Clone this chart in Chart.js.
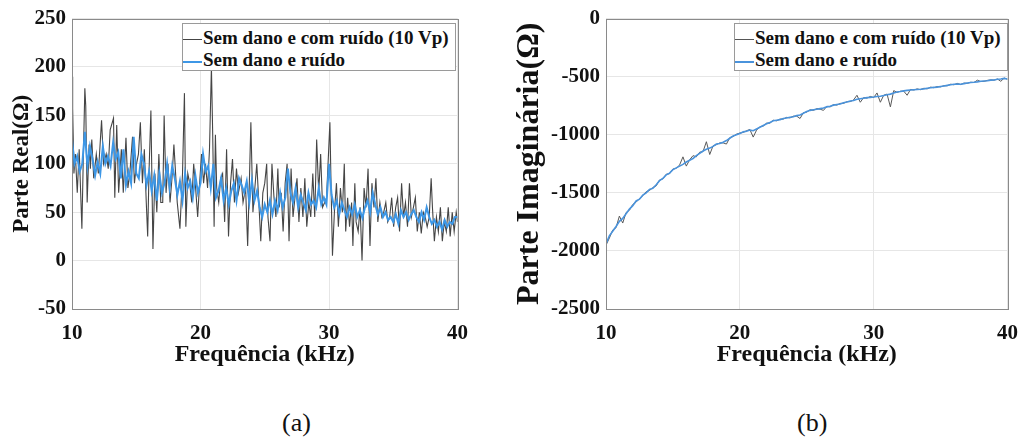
<!DOCTYPE html>
<html>
<head>
<meta charset="utf-8">
<script src="https://cdn.jsdelivr.net/npm/chart.js@4.4.1/dist/chart.umd.min.js"></script>
<style>
body{margin:0;background:#fff;width:1030px;height:441px;position:relative;overflow:hidden;font-family:"Liberation Serif","Times New Roman",serif;}
.box{position:absolute;top:0;}
.legend{position:absolute;top:23px;width:272px;height:46px;border:1px solid #9a9a9a;background:#fff;font-weight:bold;font-size:19px;color:#111;}
.row{position:absolute;left:0;height:20px;line-height:20px;white-space:nowrap;}
.row span.ln{display:inline-block;width:19px;vertical-align:middle;margin-right:1px;}
.cap{position:absolute;top:408px;font-size:26px;color:#111;}
</style>
</head>
<body>

<div class="box" style="left:0;width:480px;height:370px;"><canvas id="realChart" width="480" height="370"></canvas></div>
<div class="box" style="left:510px;width:520px;height:370px;"><canvas id="imagChart" width="520" height="370"></canvas></div>

<div class="legend" style="left:182px;">
<div class="row" style="top:4px;"><span class="ln" style="border-top:1px solid #444;"></span>Sem dano e com ruído (10 Vp)</div>
<div class="row" style="top:26px;"><span class="ln" style="border-top:2px solid #3d97e6;"></span>Sem dano e ruído</div>
</div>
<div class="legend" style="left:734px;">
<div class="row" style="top:4px;"><span class="ln" style="border-top:1px solid #555;"></span>Sem dano e com ruído (10 Vp)</div>
<div class="row" style="top:26px;"><span class="ln" style="border-top:2px solid #4a93dc;"></span>Sem dano e ruído</div>
</div>

<div class="cap" style="left:282px;">(a)</div>
<div class="cap" style="left:797px;">(b)</div>

<script>

/* ================= DATA ================= */
const xTicks=[10,20,30,40];

// (a) real part, noisy measurement
const freqNoisyA=[10.00,10.05,10.15,10.26,10.41,10.56,10.77,10.87,11.00,11.07,11.18,11.33,11.43,11.54,11.69,11.89,12.05,12.30,12.46,12.66,12.82,12.97,13.23,13.33,13.48,13.63,
13.84,13.99,14.20,14.35,14.50,14.71,14.86,15.02,15.17,15.32,15.48,15.63,15.78,15.89,15.99,16.14,16.30,16.45,16.60,16.76,16.91,17.06,17.17,17.32,17.47,17.63,17.78,17.93,
18.04,18.19,18.40,18.60,18.75,18.86,19.01,19.16,19.32,19.47,19.62,19.78,19.93,20.08,20.24,20.39,20.55,20.70,20.85,20.95,21.06,21.16,21.26,21.42,21.57,21.72,21.88,
22.03,22.18,22.34,22.49,22.64,22.80,22.95,23.16,23.31,23.51,23.67,23.82,23.92,24.08,24.23,24.38,24.54,24.69,24.85,25.00,25.15,25.25,25.41,25.56,25.72,25.87,
26.02,26.12,26.28,26.43,26.59,26.74,26.89,27.05,27.20,27.35,27.51,27.66,27.81,27.97,28.12,28.27,28.43,28.58,28.74,28.89,29.04,29.20,29.35,29.50,29.66,29.81,29.96,
30.07,30.17,30.27,30.42,30.58,30.73,30.89,31.04,31.19,31.30,31.45,31.60,31.76,31.86,32.01,32.11,32.27,32.42,32.57,32.73,32.88,33.04,33.19,33.34,33.50,33.65,33.80,
33.96,34.11,34.26,34.42,34.57,34.72,34.88,35.03,35.19,35.34,35.49,35.65,35.80,35.95,36.11,36.26,36.41,36.57,36.72,36.87,37.03,37.18,37.34,37.49,37.64,37.80,37.95,
38.05,38.20,38.36,38.51,38.67,38.82,38.97,39.13,39.28,39.43,39.59,39.74,39.90,40.00];
const realNoisy=[190,157,90,110,70,115,33,100,178,160,60,120,95,125,85,110,90,145,100,110,95,135,147,65,140,70,
115,70,127,75,90,128,80,100,110,143,80,115,60,25,90,155,12,90,50,110,60,60,150,70,100,60,85,120,
95,60,33,90,173,35,90,80,60,100,75,45,80,110,80,100,75,115,200,130,35,130,75,60,85,90,40,
115,25,80,105,60,95,70,85,60,75,15,90,143,50,75,100,60,20,70,80,100,45,20,100,65,45,
95,55,70,30,80,100,20,95,45,65,85,40,75,45,85,35,60,45,90,45,125,70,110,55,60,65,110,
143,70,5,50,80,35,75,50,100,30,65,35,60,15,80,40,30,55,0,75,55,95,15,80,55,85,40,
60,45,50,60,40,45,65,35,55,65,30,80,45,60,35,80,45,55,65,30,50,28,50,45,35,45,85,
55,20,45,30,55,20,40,30,55,25,50,30,50,40];

// (a) real part, clean
const freqCleanA=[10.0,10.2,10.4,10.6,10.8,11.0,11.2,11.4,11.6,11.8,12.0,12.2,12.4,12.6,12.8,13.0,13.2,13.4,13.6,13.8,
14.0,14.2,14.4,14.6,14.8,15.0,15.2,15.4,15.6,15.8,16.0,16.2,16.4,16.6,16.8,17.0,17.2,17.4,17.6,17.8,
18.0,18.2,18.4,18.6,18.8,19.0,19.2,19.4,19.6,19.8,20.0,20.2,20.4,20.6,20.8,21.0,21.2,21.4,21.6,21.8,
22.0,22.2,22.4,22.6,22.8,23.0,23.2,23.4,23.6,23.8,24.0,24.2,24.4,24.6,24.8,25.0,25.2,25.4,25.6,25.8,
26.0,26.2,26.4,26.6,26.8,27.0,27.2,27.4,27.6,27.8,28.0,28.2,28.4,28.6,28.8,29.0,29.2,29.4,29.6,29.8,
30.0,30.2,30.4,30.6,30.8,31.0,31.2,31.4,31.6,31.8,32.0,32.2,32.4,32.6,32.8,33.0,33.2,33.4,33.6,33.8,
34.0,34.2,34.4,34.6,34.8,35.0,35.2,35.4,35.6,35.8,36.0,36.2,36.4,36.6,36.8,37.0,37.2,37.4,37.6,37.8,
38.0,38.2,38.4,38.6,38.8,39.0,39.2,39.4,39.6,39.8,40.0];
const realClean=[125,100,108,92,100,133,98,118,105,88,102,90,118,100,108,98,122,105,112,85,
115,78,92,80,128,90,85,110,100,78,92,72,88,62,90,70,80,100,75,98,
85,68,82,62,90,75,82,65,88,70,80,110,92,98,75,100,65,72,85,62,
75,58,72,80,62,85,78,70,82,60,83,62,72,55,45,58,50,62,48,62,
52,70,55,65,95,70,60,75,55,68,60,52,70,58,62,55,75,58,65,58,
100,68,55,62,48,60,52,45,55,48,58,45,52,44,55,62,50,70,58,48,
55,45,50,42,45,40,48,38,52,45,50,42,48,52,45,40,50,42,55,45,
38,42,35,40,32,42,35,40,38,45,45];

// (b) imaginary part
const freqB=[10.00,10.25,10.50,10.75,11.00,11.25,11.50,11.75,12.00,12.25,12.50,12.75,13.00,13.25,13.50,13.75,14.00,14.25,14.50,14.75,
15.00,15.25,15.50,15.75,16.00,16.25,16.50,16.75,17.00,17.25,17.50,17.75,18.00,18.25,18.50,18.75,19.00,19.25,19.50,19.75,
20.00,20.25,20.50,20.75,21.00,21.25,21.50,21.75,22.00,22.25,22.50,22.75,23.00,23.25,23.50,23.75,24.00,24.25,24.50,24.75,
25.00,25.25,25.50,25.75,26.00,26.25,26.50,26.75,27.00,27.25,27.50,27.75,28.00,28.25,28.50,28.75,29.00,29.25,29.50,29.75,
30.00,30.25,30.50,30.75,31.00,31.25,31.50,31.75,32.00,32.25,32.50,32.75,33.00,33.25,33.50,33.75,34.00,34.25,34.50,34.75,
35.00,35.25,35.50,35.75,36.00,36.25,36.50,36.75,37.00,37.25,37.50,37.75,38.00,38.25,38.50,38.75,39.00,39.25,39.50,39.75,40.00];
const imagClean=[-1940,-1870,-1830,-1790,-1745,-1720,-1680,-1640,-1610,-1570,-1555,-1520,-1500,-1470,-1460,-1430,-1395,-1375,-1345,-1330,
-1300,-1285,-1270,-1255,-1235,-1220,-1205,-1180,-1160,-1140,-1125,-1115,-1100,-1080,-1075,-1065,-1050,-1030,-1010,-1000,
-990,-975,-970,-960,-965,-950,-935,-920,-905,-895,-880,-875,-870,-860,-855,-850,-845,-835,-830,-815,
-800,-790,-785,-780,-775,-770,-760,-755,-745,-740,-735,-725,-718,-710,-705,-695,-690,-685,-680,-678,
-675,-670,-668,-662,-655,-650,-640,-632,-628,-622,-618,-615,-612,-610,-608,-605,-600,-595,-592,-590,
-585,-580,-575,-570,-565,-563,-565,-560,-555,-550,-548,-545,-540,-537,-535,-530,-528,-522,-520,-515,-520];
const imagNoisy=[-1950,-1890,-1820,-1800,-1700,-1760,-1670,-1650,-1600,-1580,-1550,-1525,-1490,-1480,-1455,-1440,-1390,-1380,-1340,-1335,
-1295,-1290,-1260,-1190,-1270,-1215,-1180,-1190,-1150,-1145,-1060,-1170,-1095,-1085,-1070,-1070,-1080,-1025,-1015,-995,
-985,-980,-965,-955,-1020,-960,-930,-925,-900,-900,-875,-880,-865,-865,-850,-855,-840,-840,-860,-810,
-805,-785,-790,-775,-780,-790,-755,-760,-740,-745,-730,-730,-715,-715,-700,-660,-720,-680,-685,-670,
-680,-640,-720,-660,-650,-760,-620,-635,-625,-625,-660,-610,-615,-605,-612,-600,-605,-590,-595,-585,
-588,-578,-578,-565,-570,-558,-568,-555,-558,-548,-550,-530,-542,-540,-532,-528,-530,-520,-540,-512,-522];

const fontFamily='"Liberation Serif","Times New Roman",serif';

function pts(xs,ys){
return xs.map((x,i)=>({x:x,y:ys[i]}));
}

/* box around plot area */
const frame={
id:"frame",
afterDatasetsDraw(chart){
const a=chart.chartArea;
const c=chart.ctx;
c.save();
c.strokeStyle="#8a8a8a";
c.lineWidth=1;
c.strokeRect(Math.round(a.left)+0.5,Math.round(a.top)+0.5,Math.round(a.right-a.left),Math.round(a.bottom-a.top));
c.restore();
}
};

function makeOptions(cfg){
return {
responsive:false,
animation:false,
layout:{padding:{top:16,right:cfg.padRight,left:0,bottom:0}},
plugins:{legend:{display:false},tooltip:{enabled:false}},
scales:{
x:{
type:"linear",
min:10,max:40,
afterBuildTicks:(s)=>{s.ticks=xTicks.map(v=>({value:v}));},
afterFit:(s)=>{s.height=61;},
grid:{color:"#e6e6e6",drawTicks:false},
border:{display:false},
ticks:{color:"#111",padding:12,callback:(v)=>String(v),font:{family:fontFamily,size:21,weight:"bold"}},
title:{display:true,text:"Frequência (kHz)",color:"#111",padding:{top:0,bottom:1},font:{family:fontFamily,size:24,weight:"bold"}}
},
y:{
min:cfg.yMin,max:cfg.yMax,
afterBuildTicks:(s)=>{s.ticks=cfg.yTicks.map(v=>({value:v}));},
afterFit:(s)=>{s.width=cfg.yWidth;},
grid:{color:"#e6e6e6",drawTicks:false},
border:{display:false},
ticks:{color:"#111",padding:6,callback:(v)=>String(v),font:{family:fontFamily,size:21,weight:"bold"}},
title:{display:true,text:cfg.yTitle,color:"#111",padding:{top:cfg.titlePad,bottom:0},font:{family:fontFamily,size:cfg.yTitleSize,weight:"bold"}}
}
}
};
}

/* ================= CHART (a) ================= */
new Chart(document.getElementById("realChart"),{
type:"line",
data:{
datasets:[{
label:"Sem dano e ruído",
data:pts(freqCleanA,realClean),
borderColor:"#3d97e6",
borderWidth:2,
pointRadius:0,
order:0
},{
label:"Sem dano e com ruído (10 Vp)",
data:pts(freqNoisyA,realNoisy),
borderColor:"#454545",
borderWidth:1.1,
pointRadius:0,
order:1
}]
},
options:makeOptions({
padRight:18,yMin:-50,yMax:250,yTicks:[-50,0,50,100,150,200,250],
yWidth:72,yTitle:"Parte Real(Ω)",yTitleSize:23,titlePad:8
}),
plugins:[frame]
});

/* ================= CHART (b) ================= */
new Chart(document.getElementById("imagChart"),{
type:"line",
data:{
datasets:[{
label:"Sem dano e ruído",
data:pts(freqB,imagClean),
borderColor:"#4a93dc",
borderWidth:1.6,
pointRadius:0,
order:0
},{
label:"Sem dano e com ruído (10 Vp)",
data:pts(freqB,imagNoisy),
borderColor:"#5a5a5a",
borderWidth:1,
pointRadius:0,
order:1
}]
},
options:makeOptions({
padRight:16,yMin:-2500,yMax:0,yTicks:[-2500,-2000,-1500,-1000,-500,0],
yWidth:96,yTitle:"Parte Imaginária(Ω)",yTitleSize:32,titlePad:1
}),
plugins:[frame]
});

</script>
</body>
</html>
